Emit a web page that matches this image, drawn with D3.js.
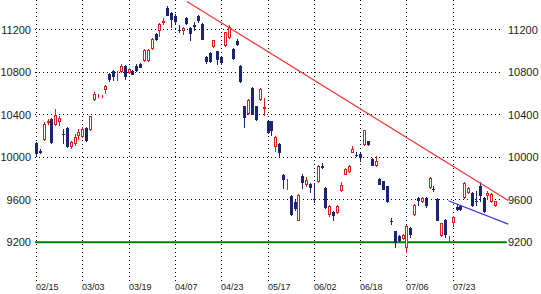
<!DOCTYPE html>
<html>
<head>
<meta charset="utf-8">
<script src="https://cdn.jsdelivr.net/npm/d3@7"></script>
<style>
  body { margin: 0; background: #fff; }
  svg { display: block; }
  text { font-family: Arial, "Liberation Sans", sans-serif; fill: #222; }
</style>
</head>
<body>
<svg id="chart" width="541" height="294"></svg>
<script>
// daily candles, 02/15 .. (120 sessions)
const opens = [10135,10060,10165,10320,10360,10305,10330,10215,10275,10100,10125,10195,10190,10275,10252,
  10540,10565,10562,10628,10786,10814,10725,10798,10854,10792,10815,10854,10877,10901,10908,
  11018,11160,11184,11265,11403,11358,11330,11195,11184,11310,11216,11240,11325,11253,10939,
  10980,11037,10995,10939,11049,11122,11018,11090,10861,10478,10409,10651,10478,10541,10455,
  10337,10337,10096,10127,9835,9765,9638,9574,9402,9819,9741,9750,9610,9763,9920,
  9710,9459,9480,9475,9680,9835,9857,10040,10020,10033,10117,10149,9983,9913,9795,
  9772,9725,9400,9302,9255,9230,9145,9334,9452,9620,9575,9620,9710,9705,9607,
  9255,9412,9218,9380,9530,9537,9616,9663,9663,9590,9725,9616,9631,9580,9540];
const highs = [10145,10075,10330,10355,10370,10455,10390,10265,10285,10155,10215,10265,10280,10285,10390,
  10610,10595,10590,10680,10795,10820,10810,10877,10870,10840,10825,10875,10890,11020,11015,
  11120,11170,11265,11310,11419,11370,11345,11245,11225,11320,11230,11270,11341,11260,10950,
  10990,11105,11000,10945,11180,11240,11025,11110,10870,10485,10550,10660,10485,10650,10557,
  10345,10345,10200,10135,9845,9795,9645,9600,9655,9845,9810,9760,9760,9930,9950,
  9720,9550,9490,9550,9770,9895,9930,10110,10045,10040,10260,10155,9990,10010,9800,
  9780,9730,9430,9310,9265,9280,9360,9345,9555,9630,9625,9630,9810,9725,9615,
  9385,9420,9260,9445,9560,9545,9765,9720,9670,9680,9765,9625,9680,9660,9590];
const lows = [10015,10030,10150,10305,10120,10295,10290,10120,10085,10080,10110,10165,10180,10140,10245,
  10525,10555,10555,10595,10712,10715,10720,10795,10730,10785,10770,10800,10835,10895,10900,
  11010,11095,11131,11245,11325,11215,11250,11170,11153,11245,11090,11190,11260,11100,10880,
  10885,11030,10870,10870,11040,11110,10915,11050,10695,10275,10400,10395,10345,10530,10384,
  10220,10195,10045,10002,9700,9694,9443,9490,9395,9700,9720,9665,9572,9755,9890,
  9515,9440,9400,9470,9670,9830,9850,10035,10000,9955,10110,10110,9915,9905,9735,
  9690,9570,9365,9145,9200,9220,9100,9240,9445,9540,9565,9520,9700,9670,9395,
  9250,9240,9190,9340,9490,9495,9605,9655,9530,9540,9580,9475,9600,9570,9535];
const closes = [10030,10040,10312,10340,10130,10400,10370,10205,10100,10140,10190,10235,10265,10150,10384,
  10595,10580,10575,10672,10729,10755,10740,10862,10751,10829,10776,10807,10840,11012,11005,
  11112,11100,11256,11280,11331,11287,11270,11185,11216,11256,11162,11230,11278,11106,10896,
  10896,11099,10911,10886,11174,11225,10924,11058,10704,10369,10541,10400,10353,10642,10470,
  10228,10243,10190,10039,9788,9775,9459,9512,9647,9757,9781,9710,9603,9920,9898,
  9522,9543,9443,9543,9740,9888,9920,10077,10010,9992,10252,10117,9920,9960,9741,
  9694,9575,9390,9192,9208,9270,9349,9271,9546,9585,9615,9540,9804,9695,9402,
  9380,9271,9228,9437,9500,9500,9757,9710,9537,9580,9631,9480,9663,9650,9585];

const dateLabels = ["02/15","03/03","03/19","04/07","04/23","05/17","06/02","06/18","07/06","07/23"];
const dateIdx = [0,12,24,36,48,60,72,84,96,108];
const priceTicks = [9200,9600,10000,10400,10800,11200];

// drawn lines: [index, price]
const resistLine = [[39.1,11466],[122.4,9593]];
const supportLine = [[106.9,9590],[122.4,9371]];
const floorLine = [[-0.3,9200],[122.0,9200]];

const svg = d3.select("#chart");

let x = d3.scaleLinear().domain([0,108]).range([36,452.7]);
let y = d3.scaleLinear().domain([9200,11200]).range([242.2,29.7]);

let navy = "#1c2473", red = "#dc1e1e";

// grid
svg.append("g").selectAll("line").data(priceTicks).enter()
  .append("line")
  .attr("x1", 35).attr("x2", 501)
  .attr("y1", d => Math.floor(y(d)) + 0.5).attr("y2", d => Math.floor(y(d)) + 0.5)
  .attr("stroke", "#000").attr("stroke-dasharray", "1,3");

svg.append("g").selectAll("line").data(dateIdx).enter()
  .append("line")
  .attr("x1", d => Math.round(x(d)) + 0.5).attr("x2", d => Math.round(x(d)) + 0.5)
  .attr("y1", 0).attr("y2", 282)
  .attr("stroke", "#000").attr("stroke-dasharray", "1,3");

// y labels both sides
svg.append("g").selectAll("text").data(priceTicks).enter()
  .append("text")
  .attr("x", 31).attr("y", d => y(d) + 4)
  .attr("text-anchor", "end").attr("font-size", "11px")
  .text(d => d);
svg.append("g").selectAll("text").data(priceTicks).enter()
  .append("text")
  .attr("x", 508).attr("y", d => y(d) + 4)
  .attr("font-size", "11px")
  .text(d => d);

// date labels
svg.append("g").selectAll("text").data(dateIdx).enter()
  .append("text")
  .attr("x", d => Math.round(x(d))).attr("y", 290)
  .attr("font-size", "9px")
  .text((d, i) => dateLabels[i]);

// 9200 line
let line = d3.line().x(d => x(d[0])).y(d => y(d[1]));
svg.append("path").attr("d", line(floorLine))
  .attr("stroke", "#008000").attr("stroke-width", 2).attr("fill", "none");

// candles
let candles = svg.append("g").selectAll("g").data(d3.range(opens.length)).enter().append("g");

candles.append("line")
  .attr("x1", i => Math.round(x(i)) + 0.5).attr("x2", i => Math.round(x(i)) + 0.5)
  .attr("y1", i => Math.round(y(highs[i]))).attr("y2", i => Math.round(y(lows[i])))
  .attr("stroke", i => closes[i] >= opens[i] ? red : navy);

candles.append("rect")
  .each(function(i) {
    let c = Math.round(x(i));
    let top = Math.round(y(Math.max(opens[i], closes[i])));
    let bot = Math.round(y(Math.min(opens[i], closes[i])));
    let r = d3.select(this);
    if (closes[i] >= opens[i]) {
      r.attr("x", c - 0.5).attr("y", top + 0.5)
       .attr("width", 2).attr("height", Math.max(bot - top - 1, 0))
       .attr("fill", "#fff").attr("stroke", red);
    } else {
      r.attr("x", c - 1).attr("y", top)
       .attr("width", 3).attr("height", Math.max(bot - top, 1))
       .attr("fill", navy);
    }
  });

// trend lines
svg.append("path").attr("d", line(resistLine))
  .attr("stroke", "#f03a3a").attr("stroke-width", 1.3).attr("fill", "none");
svg.append("path").attr("d", line(supportLine))
  .attr("stroke", "#3a3ad8").attr("stroke-width", 1.3).attr("fill", "none");
</script>
</body>
</html>
